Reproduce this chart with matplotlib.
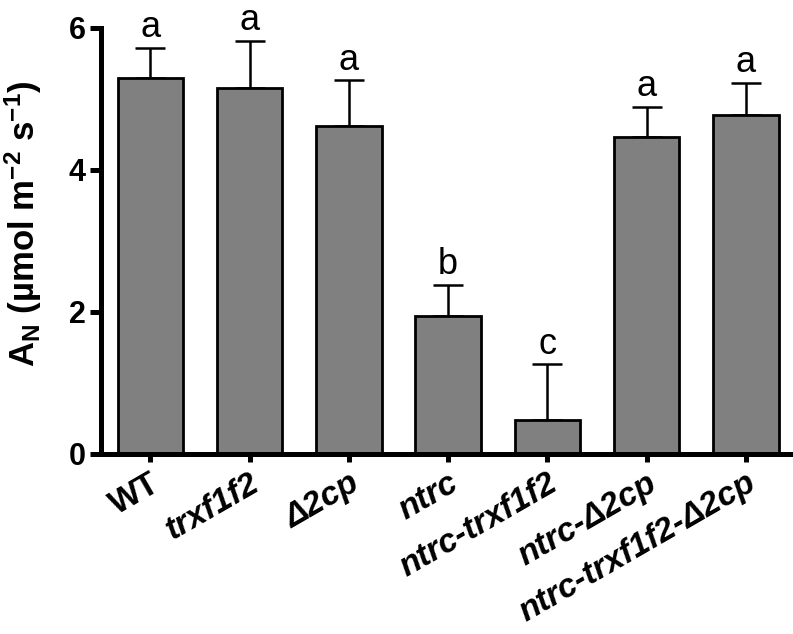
import matplotlib
matplotlib.use("Agg")
import matplotlib.pyplot as plt
import matplotlib.transforms as mtransforms
import numpy as np

plt.rcParams['font.family'] = ['Liberation Sans', 'DejaVu Sans']
plt.rcParams['mathtext.fontset'] = 'custom'
plt.rcParams['mathtext.bf'] = 'Liberation Sans:bold'
plt.rcParams['mathtext.rm'] = 'Liberation Sans:bold'
plt.rcParams['mathtext.default'] = 'bf'

genotypes = ["WT", "trxf1f2", "Δ2cp", "ntrc", "ntrc-trxf1f2", "ntrc-Δ2cp", "ntrc-trxf1f2-Δ2cp"]
means = [5.30, 5.15, 4.62, 1.94, 0.48, 4.46, 4.77]
errors = [0.42, 0.67, 0.64, 0.44, 0.78, 0.43, 0.46]
letters = ["a", "a", "a", "b", "c", "a", "a"]

fig = plt.figure(figsize=(7.93, 6.34), dpi=100)
ax = fig.add_axes([0.127, 0.284, 0.87, 0.672])

x = np.arange(len(genotypes))
ax.bar(x, means, width=0.66, color="#808080", edgecolor="black", linewidth=2, zorder=2)
ax.errorbar(x, means, yerr=[np.zeros(len(errors)), errors], fmt="none",
            ecolor="black", elinewidth=1.8, capsize=11, capthick=1.8, zorder=1)

for xi, m, e, lab in zip(x, means, errors, letters):
    ax.text(xi, m + e + 0.04, lab, ha="center", va="bottom", fontsize=26)

ax.set_xlim(-0.5, 6.45)
ax.set_ylim(0, 6)
ax.set_yticks([0, 2, 4, 6])
ax.set_xticks(x)
ax.set_xticklabels(genotypes, rotation=30, ha="right", rotation_mode="anchor")
shift = mtransforms.ScaledTranslation(0.16, 0.05, fig.dpi_scale_trans)
for i, t in enumerate(ax.get_xticklabels()):
    t.set_fontweight("bold")
    t.set_fontsize(24)
    t.set_transform(t.get_transform() + shift)
    if i > 0:
        t.set_fontstyle("italic")
for t in ax.get_yticklabels():
    t.set_fontweight("bold")
    t.set_fontsize(22)

ax.spines["top"].set_visible(False)
ax.spines["right"].set_visible(False)
ax.spines["left"].set_linewidth(3.6)
ax.spines["bottom"].set_linewidth(3.6)
ax.tick_params(axis="y", width=3.6, length=8, direction="out", pad=3)
ax.tick_params(axis="x", width=3.6, length=6, direction="out", pad=4)

ax.set_ylabel("A$_{N}$ (µmol m$^{-2}$ s$^{-1}$)", fontsize=25, fontweight="bold")
ax.yaxis.set_label_coords(-0.082, 0.54)

fig.savefig("out.png", dpi=100)
